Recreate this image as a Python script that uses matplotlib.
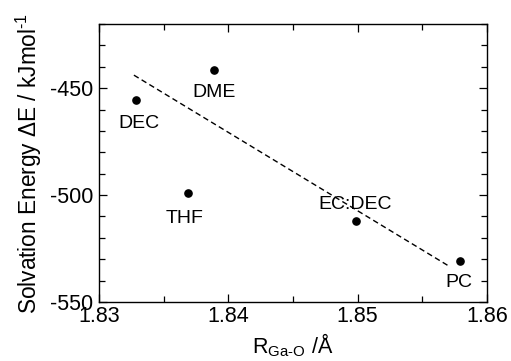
import matplotlib
matplotlib.use("Agg")
import matplotlib.pyplot as plt
from matplotlib.ticker import MultipleLocator

plt.rcParams['font.family'] = ['Liberation Sans', 'DejaVu Sans']
plt.rcParams['mathtext.default'] = 'regular'
plt.rcParams['axes.unicode_minus'] = False

solvents = ['DEC', 'DME', 'THF', 'EC:DEC', 'PC']
r_gao = [1.8329, 1.8389, 1.8369, 1.8499, 1.8579]
energy = [-455.3, -441.4, -499.2, -512.3, -530.7]
fit_x = [1.8327, 1.8570]
fit_y = [-443.9, -533.0]

label_offsets = {'DEC': (2, -17), 'DME': (0, -16), 'THF': (-2.5, -17.8),
                 'EC:DEC': (-1.2, 12.4), 'PC': (-1, -16)}

fig = plt.figure(figsize=(5.11, 3.61), dpi=100)
ax = fig.add_axes([0.1937, 0.1634, 0.7593, 0.770])

ax.plot(fit_x, fit_y, color='black', linestyle=(0, (4, 2.5)), linewidth=1.0)
ax.plot(r_gao, energy, 'o', color='black', markersize=5.2)

for name, x, y in zip(solvents, r_gao, energy):
    dx, dy = label_offsets[name]
    ax.annotate(name, (x, y), xytext=(dx, dy), textcoords='offset points',
                ha='center', va='center', fontsize=14)

ax.set_xlim(1.83, 1.86)
ax.set_ylim(-550, -420)
ax.set_xticks([1.83, 1.84, 1.85, 1.86])
ax.set_xticklabels(['1.83', '1.84', '1.85', '1.86'])
ax.set_yticks([-550, -500, -450])
ax.set_yticklabels(['-550', '-500', '-450'])
ax.xaxis.set_minor_locator(MultipleLocator(0.005))
ax.yaxis.set_minor_locator(MultipleLocator(10))
ax.tick_params(which='both', direction='in', top=True, right=True, labelsize=15.5)
ax.tick_params(axis='x', pad=3)
ax.tick_params(axis='y', pad=4)
ax.tick_params(which='major', length=6, width=0.9)
ax.tick_params(which='minor', length=4, width=0.9)
for s in ax.spines.values():
    s.set_linewidth(1.0)

ax.set_xlabel('R$_{Ga‐O}$ /Å', fontsize=15.5, labelpad=3)
ax.set_ylabel('Solvation Energy ΔE / kJmol$^{‐1}$', fontsize=16.3, labelpad=4)

fig.savefig('out.png', dpi=100)
